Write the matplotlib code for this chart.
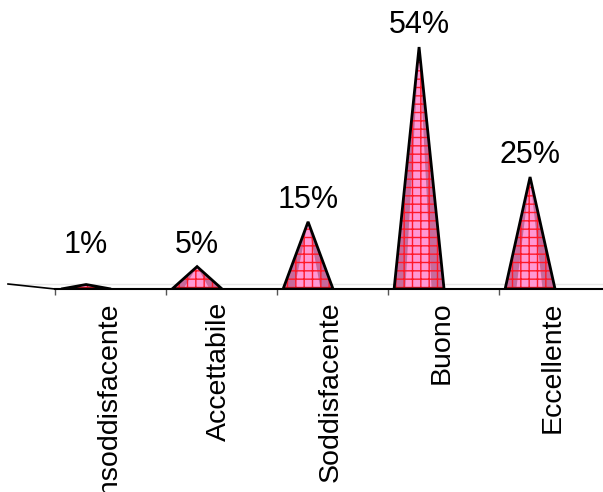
import matplotlib
matplotlib.use('Agg')
import matplotlib.pyplot as plt
import numpy as np

categories = ['Insoddisfacente', 'Accettabile', 'Soddisfacente', 'Buono', 'Eccellente']
percent = [1, 5, 15, 54, 25]
labels = ['1%', '5%', '15%', '54%', '25%']

plt.rcParams['font.family'] = ['Liberation Sans', 'DejaVu Sans']
plt.rcParams['hatch.linewidth'] = 1.0

fig = plt.figure(figsize=(6.03, 4.92), dpi=100)
ax = fig.add_axes([55 / 603, 203 / 492, 548 / 603, 289 / 492])

half = 0.225
x = np.arange(len(categories))

for i, v in zip(x, percent):
    # darker cone body, lighter centre, red grid, black outline
    ax.fill([i - half, i, i + half], [0, v, 0], color='#c86a9c', lw=0, zorder=2)
    ax.fill([i - half * 0.55, i, i + half * 0.5], [0, v, 0], color='#ff98d4', lw=0, zorder=3)
    ax.fill([i - half, i, i + half], [0, v, 0], facecolor='none', edgecolor='#ff1828',
            hatch='++', lw=0, zorder=4)
    ax.fill([i - half, i, i + half], [0, v, 0], facecolor='none', edgecolor='black',
            lw=2, joinstyle='miter', zorder=5)

for i, v, t in zip(x, percent, labels):
    ax.annotate(t, (i, max(v, 5)), xytext=(0, 10), textcoords='offset points',
                ha='center', va='baseline', fontsize=22)

ax.set_xlim(-0.28, 4.657)
ax.set_ylim(0, 64.5)

ax.set_xticks(x - 0.28)
ax.set_xticklabels([])
ax.set_xticks(x + 0.2, minor=True)
ax.set_xticklabels(categories, minor=True, rotation=90, fontsize=20.5)
ax.tick_params(axis='x', which='major', length=4, width=1, color='#555555', direction='out')
ax.tick_params(axis='x', which='minor', length=0, pad=9)
ax.set_yticks([])

for s in ['top', 'right', 'left']:
    ax.spines[s].set_visible(False)
ax.spines['bottom'].set_linewidth(1.5)

# floor edges
ax.plot([-47 / 548, 1], [5 / 289, 5 / 289], transform=ax.transAxes, color='#e8e8e8',
        lw=1, clip_on=False, zorder=1)
ax.plot([-47 / 548, 0], [5 / 289, 0], transform=ax.transAxes, color='black',
        lw=1.2, clip_on=False, zorder=1)

fig.savefig('out.png', dpi=100)
